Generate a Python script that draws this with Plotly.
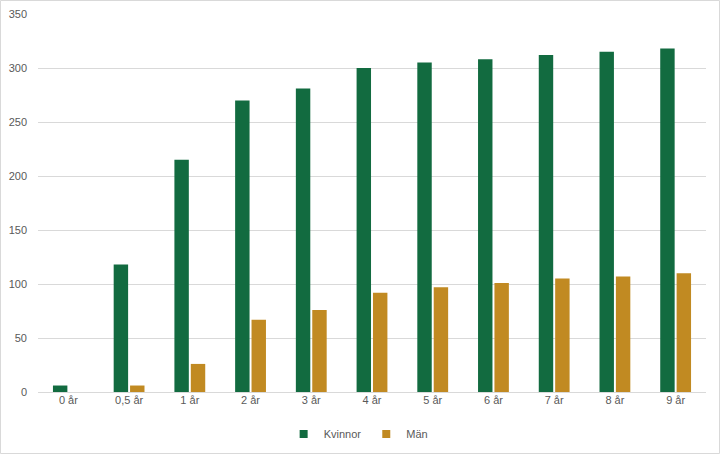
import plotly.graph_objects as go

categories = ["0 år", "0,5 år", "1 år", "2 år", "3 år", "4 år", "5 år", "6 år", "7 år", "8 år", "9 år"]
kvinnor = [6, 118, 215, 270, 281, 300, 305, 308, 312, 315, 318]
man = [None, 6, 26, 67, 76, 92, 97, 101, 105, 107, 110]
y_ticks = [0, 50, 100, 150, 200, 250, 300, 350]

GREEN = "#126B40"
GOLD = "#C18A22"
GRID = "#D9D9D9"
TEXT = "#595959"

fig = go.Figure()
fig.add_trace(go.Bar(name="Kvinnor", x=categories, y=kvinnor, showlegend=False,
                     marker=dict(color=GREEN, line=dict(width=0))))
fig.add_trace(go.Bar(name="Män", x=categories, y=man, showlegend=False,
                     marker=dict(color=GOLD, line=dict(width=0))))
# legend entries with small square symbols
fig.add_trace(go.Scatter(name="Kvinnor", x=[None], y=[None], mode="markers",
                         marker=dict(symbol="square", size=8, color=GREEN)))
fig.add_trace(go.Scatter(name="Män", x=[None], y=[None], mode="markers",
                         marker=dict(symbol="square", size=8, color=GOLD)))

L, R, T, B = 38, 14, 14, 62
W, H = 720, 454
pw, ph = W - L - R, H - T - B

fig.update_layout(
    width=W, height=H,
    margin=dict(l=L, r=R, t=T, b=B, pad=0, autoexpand=False),
    paper_bgcolor="white", plot_bgcolor="white",
    barmode="group", bargap=0.46, bargroupgap=0.12,
    font=dict(family="Liberation Sans, Arial, sans-serif", size=11, color=TEXT),
    showlegend=True,
    legend=dict(orientation="h", x=0.48, xanchor="center", y=(H - B - 434) / ph, yanchor="middle",
                font=dict(size=11, color=TEXT), itemwidth=30, traceorder="normal",
                tracegroupgap=0),
    xaxis=dict(showgrid=False, showline=False, ticks="", automargin=False,
               tickfont=dict(size=11, color=TEXT)),
    yaxis=dict(range=[0, 350], tickvals=y_ticks, showgrid=True, gridcolor=GRID, gridwidth=1,
               zeroline=True, zerolinecolor=GRID, zerolinewidth=1, showline=False, ticks="",
               automargin=False, ticklabelstandoff=10, tickfont=dict(size=11, color=TEXT)),
    shapes=[dict(type="rect", xref="paper", yref="paper",
                 x0=(0.5 - L) / pw, x1=(W - 0.5 - L) / pw,
                 y0=(H - B - (H - 0.5)) / ph, y1=(H - B - 0.5) / ph,
                 line=dict(color=GRID, width=1), fillcolor="rgba(0,0,0,0)", layer="below")],
)

fig.write_html("out.html", config={"displayModeBar": False},
               post_script="document.body.style.margin='0';document.body.style.overflow='hidden';")
